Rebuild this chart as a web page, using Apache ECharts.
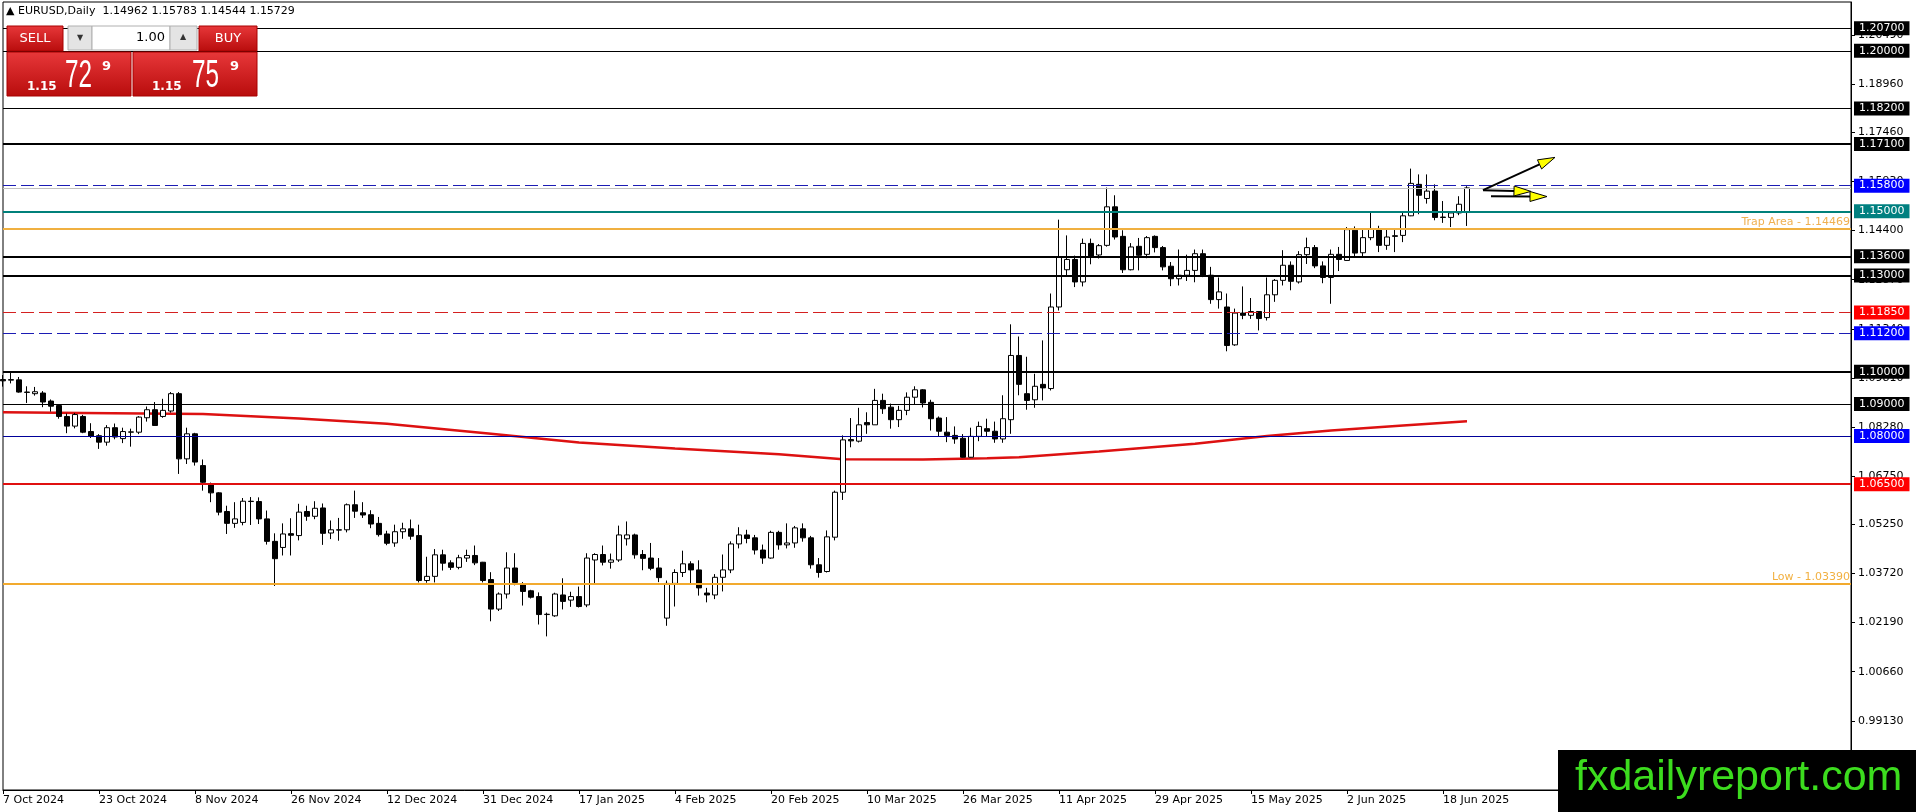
<!DOCTYPE html>
<html lang="en">
<head>
    <meta charset="UTF-8">
    <title>EURUSD,Daily</title>
    <style>
        html, body { margin: 0; padding: 0; background: #fff; }
        #main { width: 1916px; height: 812px; }
    </style>
</head>
<body>
<div id="main"></div>
<script src="https://cdn.jsdelivr.net/npm/echarts@6/dist/echarts.min.js"></script>
<script>
    // daily candles, first bar is 7 Oct 2024, last is 23 Jun 2025
    var opens = [
        1.0976, 1.0974, 1.0975, 1.0937, 1.0932, 1.0934, 1.0909, 1.0895, 1.0861, 1.0831,
        1.0861, 1.0814, 1.0801, 1.0781, 1.0826, 1.0792, 1.0812, 1.0812, 1.0857, 1.0882,
        1.0861, 1.0878, 1.0932, 1.0729, 1.0807, 1.0708, 1.0651, 1.0623, 1.0565, 1.0528,
        1.0531, 1.0597, 1.0596, 1.0542, 1.0472, 1.0453, 1.0496, 1.0490, 1.0565, 1.0550,
        1.0576, 1.0498, 1.0508, 1.0508, 1.0586, 1.0561, 1.0555, 1.0528, 1.0495, 1.0467,
        1.0502, 1.0511, 1.0490, 1.0350, 1.0363, 1.0430, 1.0405, 1.0391, 1.0420, 1.0428,
        1.0407, 1.0353, 1.0261, 1.0308, 1.0389, 1.0336, 1.0318, 1.0300, 1.0244, 1.0240,
        1.0305, 1.0289, 1.0300, 1.0274, 1.0414, 1.0431, 1.0407, 1.0414, 1.0480, 1.0492,
        1.0431, 1.0420, 1.0389, 1.0233, 1.0341, 1.0375, 1.0402, 1.0383, 1.0311, 1.0305,
        1.0360, 1.0383, 1.0464, 1.0492, 1.0483, 1.0445, 1.0420, 1.0500, 1.0461, 1.0467,
        1.0511, 1.0483, 1.0399, 1.0378, 1.0485, 1.0625, 1.0789, 1.0784, 1.0842, 1.0835,
        1.0911, 1.0890, 1.0851, 1.0880, 1.0921, 1.0944, 1.0905, 1.0856, 1.0812, 1.0802,
        1.0793, 1.0734, 1.0799, 1.0823, 1.0815, 1.0791, 1.0851, 1.1051, 1.0932, 1.0913,
        1.0961, 1.0948, 1.1202, 1.1318, 1.1350, 1.1280, 1.1400, 1.1364, 1.1394, 1.1514,
        1.1422, 1.1318, 1.1391, 1.1366, 1.1422, 1.1387, 1.1329, 1.1290, 1.1301, 1.1316,
        1.1368, 1.1301, 1.1225, 1.1202, 1.1084, 1.1183, 1.1176, 1.1188, 1.1169, 1.1240,
        1.1285, 1.1332, 1.1280, 1.1365, 1.1387, 1.1330, 1.1294, 1.1366, 1.1347, 1.1441,
        1.1371, 1.1418, 1.1444, 1.1394, 1.1424, 1.1425, 1.1486, 1.1584, 1.1540, 1.1563,
        1.1482, 1.1481, 1.1495, 1.14962
    ];
    var closes = [
        1.0972, 1.0976, 1.0937, 1.0936, 1.0938, 1.0906, 1.0893, 1.0861, 1.0831, 1.0867,
        1.0812, 1.0799, 1.0781, 1.0826, 1.0797, 1.0814, 1.0813, 1.0859, 1.0882, 1.0833,
        1.0880, 1.0932, 1.0729, 1.0807, 1.0719, 1.0656, 1.0623, 1.0563, 1.0528, 1.0542,
        1.0597, 1.0596, 1.0542, 1.0472, 1.0418, 1.0495, 1.0491, 1.0563, 1.0550, 1.0575,
        1.0497, 1.0508, 1.0507, 1.0586, 1.0566, 1.0554, 1.0526, 1.0493, 1.0466, 1.0502,
        1.0511, 1.0488, 1.0350, 1.0363, 1.0430, 1.0404, 1.0391, 1.0421, 1.0428, 1.0405,
        1.0350, 1.0261, 1.0308, 1.0389, 1.0344, 1.0316, 1.0298, 1.0244, 1.0245, 1.0308,
        1.0285, 1.0300, 1.0269, 1.0420, 1.0431, 1.0407, 1.0414, 1.0492, 1.0492, 1.0430,
        1.0419, 1.0388, 1.0359, 1.0341, 1.0375, 1.0402, 1.0383, 1.0327, 1.0305, 1.0360,
        1.0383, 1.0464, 1.0492, 1.0481, 1.0445, 1.0420, 1.0500, 1.0461, 1.0467, 1.0514,
        1.0483, 1.0399, 1.0375, 1.0486, 1.0625, 1.0788, 1.0785, 1.0835, 1.0835, 1.0911,
        1.0885, 1.0851, 1.0880, 1.0921, 1.0944, 1.0903, 1.0854, 1.0815, 1.0802, 1.0791,
        1.0734, 1.0799, 1.0830, 1.0815, 1.0791, 1.0854, 1.1051, 1.0961, 1.0911, 1.0955,
        1.0950, 1.1202, 1.1358, 1.1350, 1.1280, 1.1400, 1.1361, 1.1393, 1.1514, 1.1420,
        1.1318, 1.1389, 1.1363, 1.1418, 1.1387, 1.1327, 1.1290, 1.1301, 1.1316, 1.1368,
        1.1301, 1.1225, 1.1249, 1.1082, 1.1183, 1.1176, 1.1188, 1.1166, 1.1240, 1.1285,
        1.1332, 1.1282, 1.1365, 1.1387, 1.1330, 1.1294, 1.1366, 1.1350, 1.1443, 1.1370,
        1.1418, 1.1444, 1.1394, 1.1420, 1.1422, 1.1486, 1.1587, 1.1550, 1.1563, 1.1481,
        1.1481, 1.1495, 1.1522, 1.15729
    ];
    var lows = [
        1.0954, 1.0964, 1.0935, 1.0903, 1.0926, 1.0890, 1.0876, 1.0854, 1.0809, 1.0824,
        1.0809, 1.0794, 1.0760, 1.0770, 1.0790, 1.0778, 1.0767, 1.0806, 1.0845, 1.0833,
        1.0857, 1.0873, 1.0682, 1.0713, 1.0708, 1.0630, 1.0594, 1.0553, 1.0495, 1.0514,
        1.0522, 1.0523, 1.0526, 1.0462, 1.0333, 1.0428, 1.0428, 1.0475, 1.0536, 1.0541,
        1.0461, 1.0479, 1.0474, 1.0500, 1.0545, 1.0545, 1.0513, 1.0487, 1.0460, 1.0455,
        1.0480, 1.0477, 1.0344, 1.0343, 1.0344, 1.0381, 1.0383, 1.0385, 1.0408, 1.0398,
        1.0344, 1.0223, 1.0255, 1.0294, 1.0335, 1.0272, 1.0294, 1.0213, 1.0176, 1.0237,
        1.0260, 1.0268, 1.0266, 1.0267, 1.0341, 1.0397, 1.0387, 1.0408, 1.0459, 1.0418,
        1.0382, 1.0382, 1.0345, 1.0209, 1.0269, 1.0361, 1.0341, 1.0303, 1.0282, 1.0292,
        1.0316, 1.0373, 1.0450, 1.0466, 1.0431, 1.0402, 1.0418, 1.0446, 1.0450, 1.0452,
        1.0471, 1.0387, 1.0359, 1.0375, 1.0475, 1.0601, 1.0765, 1.0780, 1.0807, 1.0835,
        1.0869, 1.0823, 1.0828, 1.0865, 1.0898, 1.0889, 1.0817, 1.0797, 1.0781, 1.0776,
        1.0733, 1.0733, 1.0784, 1.0798, 1.0779, 1.0779, 1.0807, 1.0927, 1.0882, 1.0888,
        1.0911, 1.0942, 1.1191, 1.1296, 1.1264, 1.1266, 1.1335, 1.1353, 1.1390, 1.1412,
        1.1308, 1.1316, 1.1316, 1.1354, 1.1372, 1.1316, 1.1267, 1.1269, 1.1283, 1.1279,
        1.1295, 1.1212, 1.1197, 1.1064, 1.1081, 1.1164, 1.1165, 1.1129, 1.1160, 1.1218,
        1.1269, 1.1254, 1.1275, 1.1336, 1.1323, 1.1276, 1.1212, 1.1314, 1.1346, 1.1359,
        1.1359, 1.1410, 1.1373, 1.1380, 1.1373, 1.1404, 1.1485, 1.1491, 1.1524, 1.1472,
        1.1464, 1.1451, 1.1488, 1.14544
    ];
    var highs = [
        1.0990, 1.0999, 1.0984, 1.0955, 1.0953, 1.0940, 1.0914, 1.0898, 1.0870, 1.0872,
        1.0866, 1.0840, 1.0806, 1.0834, 1.0839, 1.0826, 1.0823, 1.0862, 1.0892, 1.0906,
        1.0916, 1.0937, 1.0937, 1.0826, 1.0810, 1.0727, 1.0655, 1.0625, 1.0583, 1.0594,
        1.0607, 1.0610, 1.0609, 1.0568, 1.0497, 1.0528, 1.0544, 1.0589, 1.0583, 1.0597,
        1.0590, 1.0537, 1.0545, 1.0590, 1.0630, 1.0594, 1.0569, 1.0548, 1.0505, 1.0524,
        1.0530, 1.0540, 1.0524, 1.0424, 1.0448, 1.0446, 1.0413, 1.0430, 1.0446, 1.0459,
        1.0408, 1.0376, 1.0313, 1.0438, 1.0435, 1.0345, 1.0321, 1.0313, 1.0250, 1.0312,
        1.0357, 1.0315, 1.0331, 1.0435, 1.0435, 1.0459, 1.0434, 1.0521, 1.0534, 1.0496,
        1.0445, 1.0467, 1.0420, 1.0350, 1.0385, 1.0443, 1.0410, 1.0413, 1.0327, 1.0370,
        1.0431, 1.0472, 1.0516, 1.0508, 1.0492, 1.0462, 1.0505, 1.0505, 1.0528, 1.0520,
        1.0528, 1.0489, 1.0420, 1.0506, 1.0630, 1.0802, 1.0856, 1.0888, 1.0874, 1.0947,
        1.0932, 1.0901, 1.0894, 1.0936, 1.0955, 1.0946, 1.0913, 1.0861, 1.0859, 1.0830,
        1.0806, 1.0826, 1.0845, 1.0854, 1.0845, 1.0927, 1.1148, 1.1110, 1.1047, 1.0994,
        1.1098, 1.1244, 1.1474, 1.1425, 1.1362, 1.1415, 1.1415, 1.1398, 1.1574, 1.1550,
        1.1441, 1.1401, 1.1417, 1.1423, 1.1425, 1.1392, 1.1342, 1.1381, 1.1365, 1.1381,
        1.1381, 1.1327, 1.1294, 1.1244, 1.1197, 1.1266, 1.1230, 1.1188, 1.1294, 1.1289,
        1.1379, 1.1344, 1.1376, 1.1418, 1.1395, 1.1344, 1.1381, 1.1389, 1.1451, 1.1453,
        1.1445, 1.1498, 1.1455, 1.1445, 1.1447, 1.1495, 1.1633, 1.1615, 1.1615, 1.1584,
        1.1532, 1.1500, 1.1547, 1.15783
    ];

    // moving average, read at some bars
    var maBars = [0, 10, 25, 37, 48, 61, 72, 84, 97, 105, 115, 123, 127, 137, 149, 158, 166, 175, 183];
    var maValues = [1.0874, 1.0872, 1.0869, 1.0855, 1.0838, 1.0807, 1.0780, 1.0761, 1.0743, 1.0728,
        1.0727, 1.0731, 1.0734, 1.0752, 1.0776, 1.0800, 1.0817, 1.0833, 1.0846];

    // price scale labels on the right
    var priceTicks = [0.99130, 1.00660, 1.02190, 1.03720, 1.05250, 1.06750, 1.08280, 1.09810,
        1.11340, 1.12870, 1.14400, 1.15930, 1.17460, 1.18960, 1.20490];

    // horizontal levels
    var levelPrices = [1.20700, 1.20000, 1.18200, 1.17100, 1.15800, 1.15000, 1.13600, 1.13000,
        1.11850, 1.11200, 1.10000, 1.09000, 1.08000, 1.06500];
    var trapLevel = 1.14469;
    var lowLevel = 1.03390;

    // hand drawn arrows: [bar, price] start and end
    var arrowFrom = [[185, 1.1566], [185, 1.1566], [186, 1.1547]];
    var arrowTo = [[194, 1.1668], [191, 1.1562], [193, 1.1546]];

    var FONT = '"DejaVu Sans", Tahoma, sans-serif';
    var SANS = '"Liberation Sans", Arial, sans-serif';

    // dates of the trading days
    var monthNames = ['Jan', 'Feb', 'Mar', 'Apr', 'May', 'Jun', 'Jul', 'Aug', 'Sep', 'Oct', 'Nov', 'Dec'];
    var noTrading = ['2024-12-25', '2025-01-01'];
    var dates = [];
    var d = new Date(Date.UTC(2024, 9, 7));
    while (dates.length < opens.length) {
        var wd = d.getUTCDay();
        var iso = d.toISOString().slice(0, 10);
        if (wd !== 0 && wd !== 6 && noTrading.indexOf(iso) < 0) {
            dates.push(d.getUTCDate() + ' ' + monthNames[d.getUTCMonth()] + ' ' + d.getUTCFullYear());
        }
        d.setUTCDate(d.getUTCDate() + 1);
    }
    var barCount = dates.length;
    for (var k = 0; k < 48; k++) dates.push('');   // empty space right of the last bar

    var candles = opens.map(function (o, i) {
        return [o, closes[i], lows[i], highs[i]];
    });
    var maData = maBars.map(function (b, i) {
        return [b, maValues[i]];
    });

    // look of every level line
    var levelStyles = [
        {c: '#000', w: 1, t: 'solid', bg: '#000'},
        {c: '#000', w: 1, t: 'solid', bg: '#000'},
        {c: '#000', w: 1, t: 'solid', bg: '#000'},
        {c: '#000', w: 2, t: 'solid', bg: '#000'},
        {c: '#1c1cb4', w: 1, t: [13, 5], bg: '#0000ff'},
        {c: '#00807a', w: 2, t: 'solid', bg: '#008080'},
        {c: '#000', w: 2, t: 'solid', bg: '#000'},
        {c: '#000', w: 2, t: 'solid', bg: '#000'},
        {c: '#d42020', w: 1, t: [13, 5], bg: '#ff0000'},
        {c: '#1c1cb4', w: 1, t: [13, 5], bg: '#0000ff'},
        {c: '#000', w: 2, t: 'solid', bg: '#000'},
        {c: '#000', w: 1, t: 'solid', bg: '#000'},
        {c: '#000099', w: 1, t: 'solid', bg: '#0000ff'},
        {c: '#e01010', w: 2, t: 'solid', bg: '#ff0000'}
    ];

    var markLines = levelPrices.map(function (p, i) {
        var s = levelStyles[i];
        return {
            yAxis: p,
            lineStyle: {color: s.c, width: s.w, type: s.t},
            label: {
                show: true, position: 'end', distance: 3,
                formatter: p.toFixed(5),
                color: '#fff', backgroundColor: s.bg,
                fontFamily: FONT, fontSize: 11, lineHeight: 12,
                padding: [1, 5, 1, 5]
            }
        };
    });
    markLines.push({
        yAxis: trapLevel,
        lineStyle: {color: '#f0b040', width: 2, type: 'solid'},
        label: {
            show: true, position: 'insideEndTop', distance: 1,
            formatter: 'Trap Area - ' + trapLevel.toFixed(5),
            color: '#f0b050', fontFamily: FONT, fontSize: 11
        }
    });
    markLines.push({
        yAxis: lowLevel,
        lineStyle: {color: '#f2aa2e', width: 2, type: 'solid'},
        label: {
            show: true, position: 'insideEndTop', distance: 1,
            formatter: 'Low - ' + lowLevel.toFixed(5),
            color: '#f2b040', fontFamily: FONT, fontSize: 11
        }
    });
    // bid line at the last close
    markLines.push({
        yAxis: closes[closes.length - 1],
        lineStyle: {color: '#c0c0c0', width: 1, type: 'solid'},
        label: {show: false}
    });

    function isLabelBar(idx) {
        return idx % 12 === 0 && idx < barCount;
    }

    function redGrad() {
        return new echarts.graphic.LinearGradient(0, 0, 0, 1, [
            {offset: 0, color: '#e8383a'},
            {offset: 1, color: '#b80c0c'}
        ]);
    }

    // SELL / BUY panel at the top left
    var panel = [
        {type: 'rect', shape: {x: 7, y: 26, width: 56, height: 25}, style: {fill: redGrad(), stroke: '#a80000'}},
        {type: 'text', x: 35, y: 39, style: {text: 'SELL', fill: '#fff', fontSize: 13, fontFamily: FONT, align: 'center', verticalAlign: 'middle'}},
        {type: 'rect', shape: {x: 68, y: 26, width: 24, height: 24}, style: {fill: '#e4e4e4', stroke: '#b0b0b0'}},
        {type: 'text', x: 80, y: 38, style: {text: '▼', fill: '#333', fontSize: 8, fontFamily: FONT, align: 'center', verticalAlign: 'middle'}},
        {type: 'rect', shape: {x: 92, y: 26, width: 78, height: 24}, style: {fill: '#fff', stroke: '#b0b0b0'}},
        {type: 'text', x: 165, y: 38, style: {text: '1.00', fill: '#000', fontSize: 13, fontFamily: FONT, align: 'right', verticalAlign: 'middle'}},
        {type: 'rect', shape: {x: 170, y: 26, width: 27, height: 24}, style: {fill: '#e4e4e4', stroke: '#b0b0b0'}},
        {type: 'text', x: 183, y: 37, style: {text: '▲', fill: '#333', fontSize: 8, fontFamily: FONT, align: 'center', verticalAlign: 'middle'}},
        {type: 'rect', shape: {x: 199, y: 26, width: 58, height: 25}, style: {fill: redGrad(), stroke: '#a80000'}},
        {type: 'text', x: 228, y: 39, style: {text: 'BUY', fill: '#fff', fontSize: 13, fontFamily: FONT, align: 'center', verticalAlign: 'middle'}},
        {type: 'rect', shape: {x: 7, y: 52, width: 124, height: 44}, style: {fill: redGrad(), stroke: '#a80000'}},
        {type: 'rect', shape: {x: 133, y: 52, width: 124, height: 44}, style: {fill: redGrad(), stroke: '#a80000'}},
        {type: 'text', x: 27, y: 93, style: {text: '1.15', fill: '#fff', fontSize: 12, fontWeight: 'bold', fontFamily: FONT, verticalAlign: 'bottom'}},
        {type: 'text', x: 65, y: 96, scaleX: 0.64, style: {text: '72', fill: '#fff', fontSize: 38, fontFamily: SANS, verticalAlign: 'bottom'}},
        {type: 'text', x: 102, y: 73, style: {text: '9', fill: '#fff', fontSize: 13, fontWeight: 'bold', fontFamily: FONT, verticalAlign: 'bottom'}},
        {type: 'text', x: 152, y: 93, style: {text: '1.15', fill: '#fff', fontSize: 12, fontWeight: 'bold', fontFamily: FONT, verticalAlign: 'bottom'}},
        {type: 'text', x: 192, y: 96, scaleX: 0.64, style: {text: '75', fill: '#fff', fontSize: 38, fontFamily: SANS, verticalAlign: 'bottom'}},
        {type: 'text', x: 230, y: 73, style: {text: '9', fill: '#fff', fontSize: 13, fontWeight: 'bold', fontFamily: FONT, verticalAlign: 'bottom'}}
    ];
    panel.forEach(function (el) { el.z = 100; el.silent = true; });

    var graphics = panel.concat([
        {type: 'text', x: 6, y: 11, z: 100, style: {
            text: '▲ EURUSD,Daily  1.14962 1.15783 1.14544 1.15729',
            fill: '#000', fontSize: 11, fontFamily: FONT, verticalAlign: 'middle'}},
        {type: 'rect', z: 100, shape: {x: 1558, y: 750, width: 358, height: 62}, style: {fill: '#000'}},
        {type: 'text', x: 1575, y: 778, z: 101, style: {
            text: 'fxdailyreport.com', fill: '#3cdc1e', fontSize: 43,
            fontFamily: SANS, verticalAlign: 'middle'}}
    ]);

    var option = {
        animation: false,
        backgroundColor: '#fff',
        grid: {
            left: 3, right: 65, top: 2, bottom: 22,
            show: true, borderColor: '#000', borderWidth: 1, backgroundColor: '#fff'
        },
        xAxis: {
            type: 'category',
            data: dates,
            boundaryGap: false,
            axisLine: {lineStyle: {color: '#000', width: 1}},
            axisTick: {show: true, length: 4, interval: isLabelBar, lineStyle: {color: '#000'}},
            axisLabel: {
                interval: isLabelBar, align: 'left', margin: 5,
                color: '#000', fontSize: 11, fontFamily: FONT
            },
            splitLine: {show: false}
        },
        yAxis: {
            type: 'value',
            position: 'right',
            min: 0.96975,
            max: 1.21520,
            axisLine: {show: true, lineStyle: {color: '#000', width: 1}},
            axisTick: {show: true, length: 4, customValues: priceTicks, lineStyle: {color: '#000'}},
            axisLabel: {
                customValues: priceTicks, margin: 7,
                color: '#000', fontSize: 11, fontFamily: FONT,
                formatter: function (v) { return v.toFixed(5); }
            },
            splitLine: {show: false}
        },
        series: [
            {
                name: 'MA',
                type: 'line',
                data: maData,
                symbol: 'none',
                smooth: false,
                z: 2,
                lineStyle: {color: '#dd1111', width: 2.5}
            },
            {
                name: 'EURUSD',
                type: 'candlestick',
                data: candles,
                barWidth: 5,
                z: 3,
                itemStyle: {
                    color: '#ffffff', color0: '#000000',
                    borderColor: '#000000', borderColor0: '#000000', borderWidth: 1
                },
                markLine: {
                    silent: true,
                    symbol: 'none',
                    animation: false,
                    precision: 5,
                    data: markLines
                }
            }
        ],
        graphic: {elements: graphics}
    };

    var myChart = echarts.init(document.getElementById('main'));
    myChart.setOption(option);

    // arrows are placed through the chart's own scales
    function addArrows() {
        var els = [];
        for (var i = 0; i < arrowFrom.length; i++) {
            var a = myChart.convertToPixel({gridIndex: 0}, arrowFrom[i]);
            var b = myChart.convertToPixel({gridIndex: 0}, arrowTo[i]);
            var dx = b[0] - a[0], dy = b[1] - a[1];
            var len = Math.sqrt(dx * dx + dy * dy);
            var ux = dx / len, uy = dy / len;
            var nx = -uy, ny = ux;
            var bx = b[0] - ux * 17, by = b[1] - uy * 17;
            els.push({
                type: 'line', z: 50, silent: true,
                shape: {x1: a[0], y1: a[1], x2: bx, y2: by},
                style: {stroke: '#000', lineWidth: 2}
            });
            els.push({
                type: 'polygon', z: 51, silent: true,
                shape: {points: [[b[0], b[1]], [bx + nx * 5, by + ny * 5], [bx - nx * 5, by - ny * 5]]},
                style: {fill: '#ffff00', stroke: '#000', lineWidth: 1}
            });
        }
        myChart.setOption({graphic: {elements: graphics.concat(els)}});
    }
    addArrows();

    window.onresize = function () {
        myChart.resize();
    };
</script>
</body>
</html>
